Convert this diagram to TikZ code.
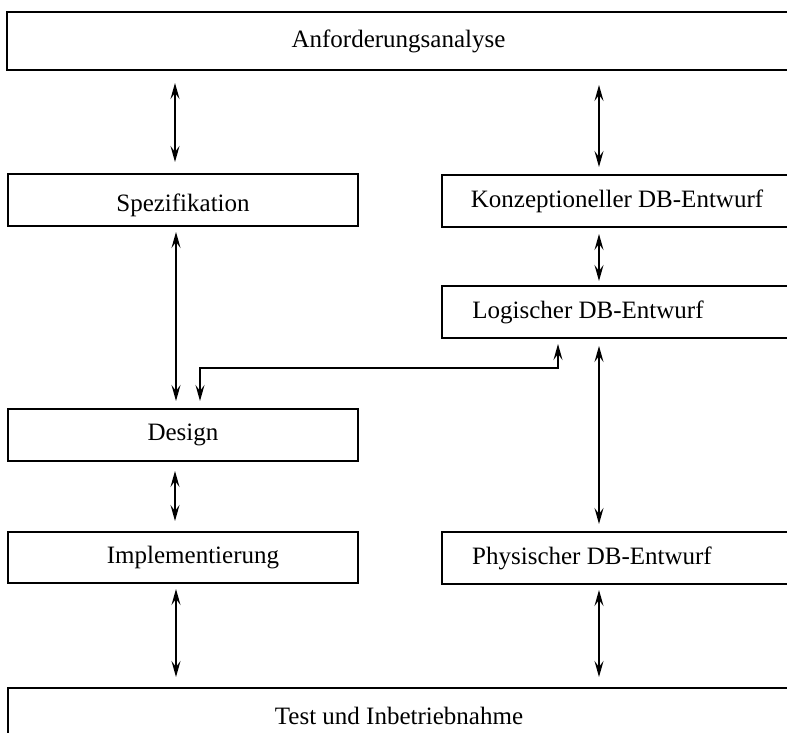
\documentclass[tikz,border=0pt]{standalone}
\usepackage{fontspec}
\setmainfont{Liberation Serif}
\usetikzlibrary{arrows.meta,positioning}

\tikzset{
	phase/.style={draw, line width=2pt, inner sep=0pt, minimum width=350pt, minimum height=52pt,
		font=\fontsize{25}{30}\selectfont},
	flow/.style={{Stealth[length=16pt,width=9pt,inset=6pt]}-{Stealth[length=16pt,width=9pt,inset=6pt]},
		line width=1.4pt, shorten <=7pt, shorten >=7pt}
}

\begin{document}
\begin{tikzpicture}[x=1pt, y=1pt]
	
		% Page frame (boxes run over the right and bottom edges)
		\clip (0,0) rectangle (787,733);
		
		% Top and bottom phases
		\node[phase, minimum width=783pt, minimum height=58pt] (anf) at (398.5,692) {Anforderungsanalyse};
		\node[phase, minimum width=782pt, minimum height=56pt] (test) at (399,17) {Test und Inbetriebnahme};
		
		% Left column
		\node[phase] (spez) at (183,533) {\raisebox{-12pt}[0pt][0pt]{Spezifikation}};
		\node[phase] (design) at (183,298) {Design};
		\node[phase, minimum height=51pt] (impl) at (183,175.5) {\hspace*{20pt}Implementierung};
		
		% Right column
		\node[phase] (konz) at (617,532) {Konzeptioneller DB-Entwurf};
		\node[phase] (logi) at (617,421) {Logischer DB-Entwurf\hspace*{58pt}};
		\node[phase] (phys) at (617,175) {Physischer DB-Entwurf\hspace*{50pt}};
		
		% Arrows, left column
		\draw[flow, shorten <=12pt, shorten >=11pt] ([xshift=-8pt]anf.south -| spez.north) -- ([xshift=-8pt]spez.north);
		\draw[flow, shorten <=5pt] ([xshift=-7pt]spez.south) -- ([xshift=-7pt]design.north);
		\draw[flow, shorten <=9pt, shorten >=10pt] ([xshift=-8pt]design.south) -- ([xshift=-8pt]impl.north);
		\draw[flow, shorten <=5pt, shorten >=10pt] ([xshift=-7pt]impl.south) -- ([xshift=-7pt]impl.south |- test.north);
		
		% Arrows, right column
		\draw[flow, shorten <=14pt] ([xshift=-18pt]anf.south -| konz.north) -- ([xshift=-18pt]konz.north);
		\draw[flow, shorten <=6pt, shorten >=4pt] ([xshift=-18pt]konz.south) -- ([xshift=-18pt]logi.north);
		\draw[flow] ([xshift=-18pt]logi.south) -- ([xshift=-18pt]phys.north);
		\draw[flow, shorten <=5pt, shorten >=10pt] ([xshift=-18pt]phys.south) -- ([xshift=-18pt]phys.south |- test.north);
		
		% Feedback from logical design to design
		\draw[flow, shorten <=5pt] ([xshift=-59pt]logi.south) |- ++(-358pt,-29pt) -- ([xshift=17pt]design.north);
	\end{tikzpicture}
\end{document}
